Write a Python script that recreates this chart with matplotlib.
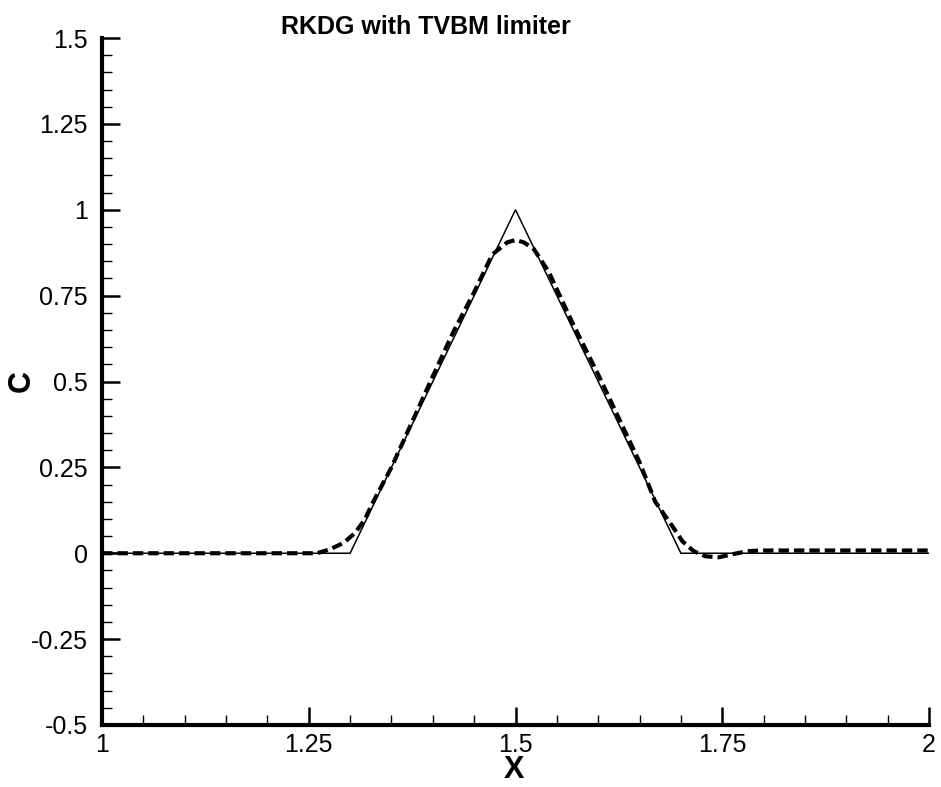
import matplotlib
matplotlib.use("Agg")
import matplotlib.pyplot as plt
from matplotlib.ticker import MultipleLocator, FixedLocator, FixedFormatter

plt.rcParams['font.family'] = ['Liberation Sans', 'DejaVu Sans']

# Exact solution (solid)
exact_x = [1.0, 1.3, 1.5, 1.7, 2.0]
exact_c = [0.0, 0.0, 1.0, 0.0, 0.0]

# RKDG with TVBM limiter (dashed)
num_x = [1.0, 1.10, 1.20, 1.26, 1.276, 1.292, 1.306, 1.318, 1.3265, 1.35, 1.40,
         1.425, 1.45, 1.472, 1.49, 1.50, 1.51, 1.522, 1.54, 1.5686, 1.60, 1.65,
         1.669, 1.6897, 1.7018, 1.7155, 1.730, 1.7458, 1.764, 1.7805, 1.796,
         1.85, 1.90, 1.95, 2.0]
num_c = [0.0, 0.0, 0.0, 0.0, 0.012, 0.03, 0.059, 0.099, 0.143, 0.25, 0.515,
         0.645, 0.76, 0.87, 0.905, 0.912, 0.905, 0.886, 0.82, 0.672, 0.52, 0.265,
         0.15, 0.0787, 0.035, 0.006, -0.009, -0.0117, -0.002, 0.006, 0.008,
         0.008, 0.008, 0.008, 0.008]

xticks = [1.0, 1.25, 1.5, 1.75, 2.0]
xtick_labels = ['1', '1.25', '1.5', '1.75', '2']
yticks = [-0.5, -0.25, 0.0, 0.25, 0.5, 0.75, 1.0, 1.25, 1.5]
ytick_labels = ['-0.5', '-0.25', '0', '0.25', '0.5', '0.75', '1', '1.25', '1.5']

fig = plt.figure(figsize=(9.41, 7.87), dpi=100)
ax = fig.add_axes([102/941, 1-725/787, (929-102)/941, (725-38)/787])

ax.plot(exact_x, exact_c, color='black', lw=1.1, solid_joinstyle='miter')
ax.plot(num_x, num_c, color='black', lw=3.0, linestyle=(0, (2.5, 1.2)))

ax.set_xlim(1, 2)
ax.set_ylim(-0.5, 1.5)
ax.xaxis.set_major_locator(FixedLocator(xticks))
ax.xaxis.set_major_formatter(FixedFormatter(xtick_labels))
ax.yaxis.set_major_locator(FixedLocator(yticks))
ax.yaxis.set_major_formatter(FixedFormatter(ytick_labels))
ax.xaxis.set_minor_locator(MultipleLocator(0.05))
ax.yaxis.set_minor_locator(MultipleLocator(0.05))

for s in ['top', 'right']:
    ax.spines[s].set_visible(False)
for s in ['left', 'bottom']:
    ax.spines[s].set_linewidth(3.0)

ax.tick_params(which='major', direction='in', length=13, width=1.8,
               labelsize=18, color='black')
ax.tick_params(which='minor', direction='in', length=7, width=1.0, color='black')
ax.tick_params(axis='y', which='major', pad=10)
ax.tick_params(axis='x', which='major', pad=6)
ax.tick_params(top=False, right=False, which='both')

for sp in ax.spines.values():
    sp.set_clip_on(False)

fig.text(426/941, 1-27/787, 'RKDG with TVBM limiter', ha='center', va='center',
         fontsize=18, fontweight='bold')
fig.text(22/941, 1-381/787, 'C', ha='center', va='center', rotation=90,
         fontsize=22, fontweight='bold')
fig.text(514/941, 1-770/787, 'X', ha='center', va='center',
         fontsize=22, fontweight='bold')

fig.savefig('out.png', dpi=100)
